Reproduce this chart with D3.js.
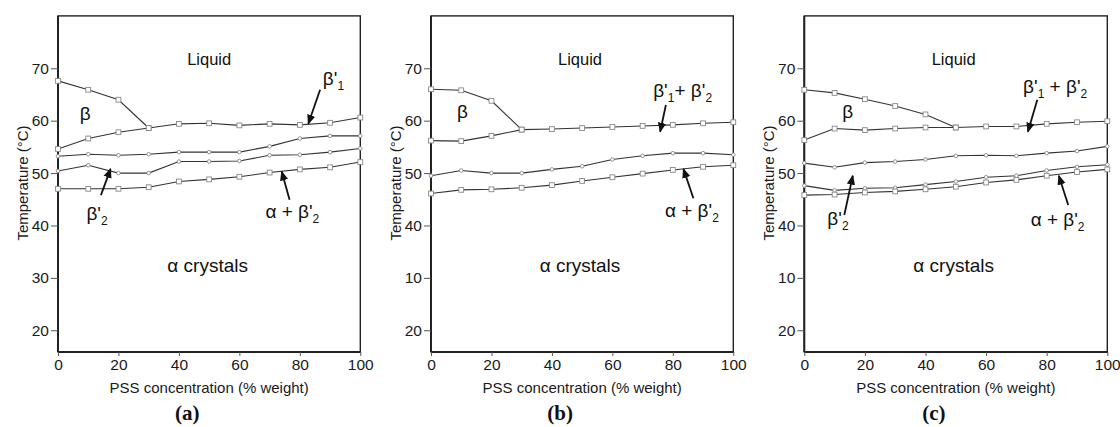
<!DOCTYPE html>
<html>
<head>
<meta charset="utf-8">
<script src="https://cdn.jsdelivr.net/npm/d3@7"></script>
<style>
  body { margin: 0; background: #fff; }
  svg { display: block; font-family: "Liberation Sans", Arial, sans-serif; }
</style>
</head>
<body>
<svg id="chart" width="1120" height="427"></svg>
<script>
// ── Data ─────────────────────────────────────────────────────────────
const xPct      = [0, 10, 20, 30, 40, 50, 60, 70, 80, 90, 100];
const xTicks    = [0, 20, 40, 60, 80, 100];
const yTicks    = [20, 30, 40, 50, 60, 70];
const yLabelsA  = ["20", "30", "40", "50", "60", "70"];
const yLabelsBC = ["20", "10", "40", "50", "60", "70"];   // as printed in (b) and (c)

// (a)
const aBeta  = [67.6, 65.9, 64.0, 58.6];
const aUpper = [54.6, 56.6, 57.8, 58.6, 59.4, 59.5, 59.1, 59.4, 59.2, 59.6, 60.6];
const aMidHi = [53.2, 53.6, 53.4, 53.6, 54.0, 54.0, 54.0, 55.1, 56.6, 57.1, 57.1];
const aMidLo = [50.4, 51.5, 50.0, 50.0, 52.2, 52.2, 52.3, 53.4, 53.5, 54.0, 54.7];
const aLower = [47.0, 47.0, 47.0, 47.3, 48.4, 48.8, 49.3, 50.1, 50.7, 51.1, 52.1];

// (b)
const bBeta  = [66.0, 65.8, 63.8, 58.3];
const bUpper = [56.2, 56.1, 57.1, 58.3, 58.4, 58.6, 58.8, 59.0, 59.2, 59.5, 59.7];
const bMid   = [49.5, 50.5, 50.0, 50.0, 50.7, 51.3, 52.6, 53.3, 53.8, 53.8, 53.5];
const bLower = [46.1, 46.8, 46.9, 47.2, 47.7, 48.5, 49.2, 49.9, 50.6, 51.2, 51.5];

// (c)
const cBeta  = [65.9, 65.3, 64.1, 62.8, 61.2, 58.7];
const cUpper = [56.3, 58.5, 58.2, 58.5, 58.7, 58.7, 58.9, 58.9, 59.4, 59.7, 59.9];
const cMidHi = [51.9, 51.1, 52.0, 52.2, 52.6, 53.3, 53.4, 53.3, 53.8, 54.2, 55.1];
const cMidLo = [47.6, 46.7, 47.1, 47.2, 47.8, 48.4, 49.2, 49.5, 50.5, 51.2, 51.6];
const cLower = [45.8, 45.9, 46.3, 46.5, 46.9, 47.4, 48.2, 48.7, 49.5, 50.2, 50.7];

// ── Panels ───────────────────────────────────────────────────────────
const panels = [
  {
    left: 58, right: 360.3, tag: "a", yLabels: yLabelsA,
    series: [[aBeta, "sq"], [aUpper, "sq"], [aMidHi, "ci"], [aMidLo, "ci"], [aLower, "sq"]],
    text: [
      { x: 50, y: 70.6, parts: [["Liquid"]], size: 16.5, anchor: "middle" },
      { x: 9, y: 60.1, parts: [["β"]], size: 19, anchor: "middle" },
      { x: 49.5, y: 31.2, parts: [["α crystals"]], size: 19, anchor: "middle" },
      { x: 87.6, y: 66.8, parts: [["β'"], ["1", 1]], size: 19 },
      { x: 9.4, y: 41.1, parts: [["β'"], ["2", 1]], size: 19 },
      { x: 68.6, y: 41.4, parts: [["α + β'"], ["2", 1]], size: 19 }
    ],
    arrows: [[86.7, 65.9, 82.8, 59.4], [14.2, 45.8, 17.4, 50.8], [76.6, 44.9, 74.0, 50.3]]
  },
  {
    left: 431, right: 733.3, tag: "b", yLabels: yLabelsBC,
    series: [[bBeta, "sq"], [bUpper, "sq"], [bMid, "ci"], [bLower, "sq"]],
    text: [
      { x: 49.3, y: 70.6, parts: [["Liquid"]], size: 16.5, anchor: "middle" },
      { x: 10.4, y: 60.5, parts: [["β"]], size: 19, anchor: "middle" },
      { x: 49.3, y: 31.2, parts: [["α crystals"]], size: 19, anchor: "middle" },
      { x: 73.5, y: 64.6, parts: [["β'"], ["1", 1], ["+ β'"], ["2", 1]], size: 19 },
      { x: 77.4, y: 41.7, parts: [["α + β'"], ["2", 1]], size: 19 }
    ],
    arrows: [[77.7, 63.0, 75.8, 57.9], [86.8, 45.2, 83.5, 50.8]]
  },
  {
    left: 804.3, right: 1107.3, tag: "c", yLabels: yLabelsBC,
    series: [[cBeta, "sq"], [cUpper, "sq"], [cMidHi, "ci"], [cMidLo, "ci"], [cLower, "sq"]],
    text: [
      { x: 49.3, y: 70.6, parts: [["Liquid"]], size: 16.5, anchor: "middle" },
      { x: 14.3, y: 60.5, parts: [["β"]], size: 19, anchor: "middle" },
      { x: 49.3, y: 31.2, parts: [["α crystals"]], size: 19, anchor: "middle" },
      { x: 72.2, y: 65.2, parts: [["β'"], ["1", 1], [" + β'"], ["2", 1]], size: 19 },
      { x: 7.6, y: 40.1, parts: [["β'"], ["2", 1]], size: 19 },
      { x: 74.7, y: 39.9, parts: [["α + β'"], ["2", 1]], size: 19 }
    ],
    arrows: [[76.9, 64.0, 73.8, 57.9], [13.2, 42.0, 16.0, 49.5], [87.1, 43.9, 84.0, 49.5]]
  }
];

const TOP = 15.9, BOTTOM = 352;
const svg = d3.select("#chart");

const defs = svg.append("defs");
defs.append("marker")
  .attr("id", "head").attr("viewBox", "0 0 10 10")
  .attr("refX", 9).attr("refY", 5)
  .attr("markerWidth", 5.5).attr("markerHeight", 5.5)
  .attr("markerUnits", "strokeWidth")
  .attr("orient", "auto")
  .append("path").attr("d", "M0,0.8 L10,5 L0,9.2 Z").attr("fill", "#111");

panels.forEach(p => {
  const x = d3.scaleLinear().domain([0, 100]).range([p.left, p.right]);
  const y = d3.scaleLinear().domain([80, 15.85]).range([TOP, BOTTOM]);
  const g = svg.append("g");

  // frame
  g.append("rect")
    .attr("x", p.left).attr("y", TOP)
    .attr("width", p.right - p.left).attr("height", BOTTOM - TOP)
    .attr("fill", "none").attr("stroke", "#222").attr("stroke-width", 1.4);

  // axes
  const yAxis = d3.axisLeft(y).tickValues(yTicks).tickSize(7).tickPadding(2)
    .tickFormat((d, i) => p.yLabels[i]);
  const xAxis = d3.axisBottom(x).tickValues(xTicks).tickSize(4).tickPadding(3);

  const ya = g.append("g").attr("transform", `translate(${p.left},0)`).call(yAxis);
  const xa = g.append("g").attr("transform", `translate(0,${BOTTOM})`).call(xAxis);
  [ya, xa].forEach(a => {
    a.select(".domain").attr("stroke", "#222").attr("stroke-width", 2);
    a.selectAll(".tick line").attr("stroke", "#555").attr("stroke-width", 1);
    a.selectAll(".tick text").attr("fill", "#1a1a1a").attr("font-size", 15.5)
      .attr("font-family", "'Liberation Sans', Arial, sans-serif");
  });
  ya.select(".domain").attr("d", `M0,${TOP}V${BOTTOM}`);
  xa.select(".domain").attr("d", `M${p.left},0H${p.right}`);

  // axis titles
  g.append("text")
    .attr("x", (p.left + p.right) / 2).attr("y", 393)
    .attr("text-anchor", "middle").attr("font-size", 15).attr("fill", "#1a1a1a")
    .text("PSS concentration (% weight)");
  g.append("text")
    .attr("transform", `translate(${p.left - 30},183) rotate(-90)`)
    .attr("text-anchor", "middle").attr("font-size", 15).attr("fill", "#1a1a1a")
    .text("Temperature (°C)");
  g.append("text")
    .attr("x", (p.left + p.right) / 2 - 22).attr("y", 420)
    .attr("text-anchor", "middle").attr("font-size", 21).attr("font-weight", "bold")
    .attr("font-family", "'Liberation Serif', 'DejaVu Serif', serif").attr("fill", "#111")
    .text(`(${p.tag})`);

  // lines
  const line = d3.line().x((d, i) => x(xPct[i])).y(d => y(d));
  p.series.forEach(([vals]) => {
    g.append("path").datum(vals).attr("d", line)
      .attr("fill", "none").attr("stroke", "#333").attr("stroke-width", 1.1);
  });

  // markers
  p.series.forEach(([vals, kind]) => {
    if (kind === "sq") {
      g.selectAll(null).data(vals).enter().append("rect")
        .attr("x", (d, i) => x(xPct[i]) - 2.4).attr("y", d => y(d) - 2.4)
        .attr("width", 4.8).attr("height", 4.8)
        .attr("fill", "#fff").attr("stroke", "#888").attr("stroke-width", 0.9);
    } else {
      g.selectAll(null).data(vals).enter().append("circle")
        .attr("cx", (d, i) => x(xPct[i])).attr("cy", d => y(d)).attr("r", 1.8)
        .attr("fill", "#fff").attr("stroke", "#888").attr("stroke-width", 0.9);
    }
  });

  // region labels
  p.text.forEach(t => {
    const el = g.append("text")
      .attr("x", x(t.x)).attr("y", y(t.y))
      .attr("font-size", t.size).attr("fill", "#111")
      .attr("text-anchor", t.anchor || "start");
    t.parts.forEach(([s, sub], k) => {
      const prevSub = k > 0 && t.parts[k - 1][1];
      el.append("tspan")
        .attr("font-size", sub ? 12 : t.size)
        .attr("dy", sub ? 5 : (prevSub ? -5 : 0))
        .text(s);
    });
  });

  // arrows
  p.arrows.forEach(([x1, y1, x2, y2]) => {
    g.append("line")
      .attr("x1", x(x1)).attr("y1", y(y1)).attr("x2", x(x2)).attr("y2", y(y2))
      .attr("stroke", "#111").attr("stroke-width", 1.8)
      .attr("marker-end", "url(#head)");
  });
});
</script>
</body>
</html>
